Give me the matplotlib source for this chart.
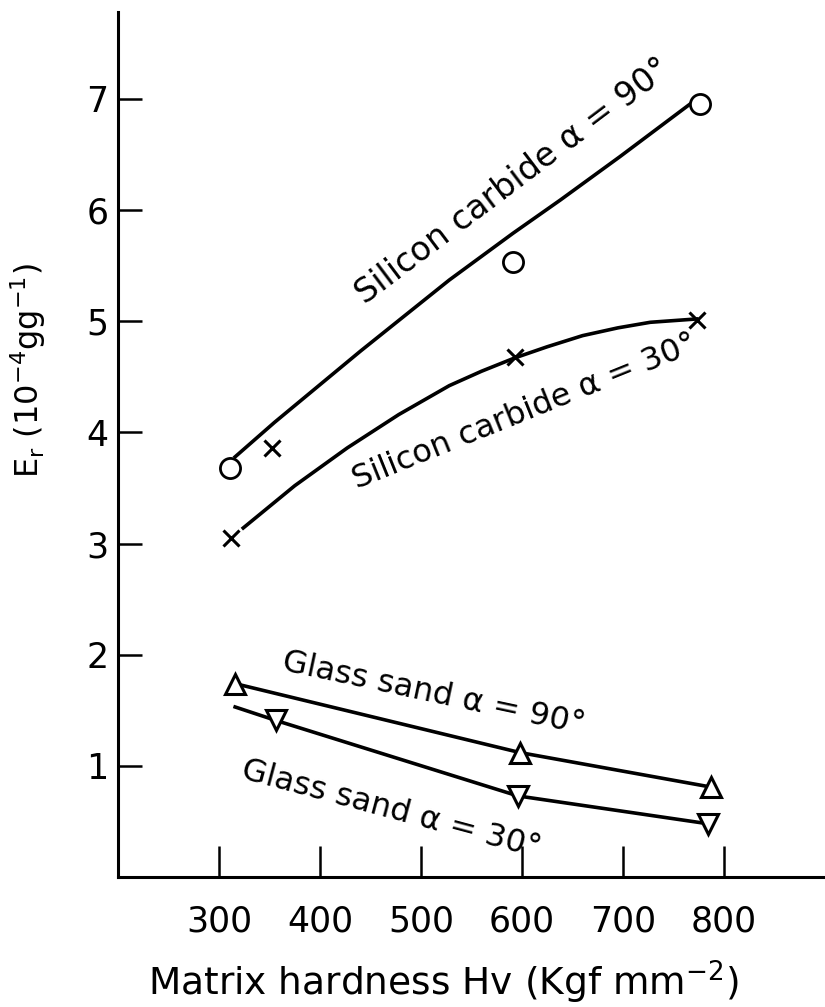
import matplotlib
matplotlib.use("Agg")
import matplotlib.pyplot as plt

# Silicon carbide, alpha = 90 deg: measured points (circles) and the drawn curve
sic90_x = [311, 591, 776]
sic90_y = [3.68, 5.53, 6.95]
sic90_curve_x = [316, 355, 440, 528, 591, 638, 697, 766]
sic90_curve_y = [3.78, 4.09, 4.73, 5.37, 5.79, 6.09, 6.48, 6.95]

# Silicon carbide, alpha = 30 deg: measured points (crosses) and the drawn curve
sic30_x = [312, 352, 593, 773]
sic30_y = [3.05, 3.86, 4.68, 5.01]
sic30_curve_x = [324, 375, 427, 478, 528, 560, 593, 625, 660, 695, 727, 773]
sic30_curve_y = [3.14, 3.52, 3.86, 4.16, 4.42, 4.55, 4.67, 4.77, 4.87, 4.94, 4.99, 5.02]

# Glass sand, alpha = 90 deg (up triangles)
gs90_x = [316, 598, 787]
gs90_y = [1.74, 1.12, 0.81]

# Glass sand, alpha = 30 deg (down triangles) and the drawn line
gs30_x = [356, 596, 784]
gs30_y = [1.41, 0.73, 0.48]
gs30_line_x = [316, 356, 596, 784]
gs30_line_y = [1.53, 1.41, 0.73, 0.48]

x_ticks = [300, 400, 500, 600, 700, 800]
y_ticks = [1, 2, 3, 4, 5, 6, 7]


def main():
    plt.rcParams['font.family'] = ['DejaVu Sans']
    plt.rcParams['mathtext.default'] = 'regular'

    fig = plt.figure(figsize=(8.25, 10.07), dpi=100)
    ax = fig.add_axes([0.143, 0.129, 0.857, 0.859])

    lw = 2.6
    ax.plot(sic90_curve_x, sic90_curve_y, c='k', lw=lw, zorder=1)
    ax.plot(sic30_curve_x, sic30_curve_y, c='k', lw=lw, zorder=1)
    ax.plot(gs90_x, gs90_y, c='k', lw=lw, zorder=1)
    ax.plot(gs30_line_x, gs30_line_y, c='k', lw=lw, zorder=1)

    ax.plot(sic90_x, sic90_y, 'o', ms=14.5, mfc='w', mec='k', mew=2.0, zorder=3)
    ax.plot(sic30_x, sic30_y, 'x', ms=11, mec='k', mew=2.2, zorder=3)
    ax.plot(gs90_x, gs90_y, '^', ms=14, mfc='w', mec='k', mew=2.2, zorder=3)
    ax.plot(gs30_x, gs30_y, 'v', ms=14, mfc='w', mec='k', mew=2.2, zorder=3)

    fs = 23
    ax.text(591, 6.26, 'Silicon carbide α = 90°', rotation=37, fontsize=24,
            ha='center', va='center', rotation_mode='anchor')
    ax.text(603, 4.18, 'Silicon carbide α = 30°', rotation=22, fontsize=fs,
            ha='center', va='center', rotation_mode='anchor')
    ax.text(512, 1.65, 'Glass sand α = 90°', rotation=-12, fontsize=fs,
            ha='center', va='center', rotation_mode='anchor')
    ax.text(470, 0.61, 'Glass sand α = 30°', rotation=-15, fontsize=fs,
            ha='center', va='center', rotation_mode='anchor')

    ax.set_xlim(200, 900)
    ax.set_ylim(0, 7.78)
    ax.set_xticks(x_ticks)
    ax.set_yticks(y_ticks)
    ax.tick_params(direction='in', width=1.8, labelsize=25)
    ax.tick_params(axis='x', length=22, pad=20)
    ax.tick_params(axis='y', length=17, pad=7)
    for s in ['top', 'right']:
        ax.spines[s].set_visible(False)
    ax.spines['left'].set_linewidth(2.2)
    ax.spines['bottom'].set_linewidth(2.2)

    ax.set_xlabel('Matrix hardness Hv (Kgf mm$^{-2}$)', fontsize=27)
    ax.xaxis.set_label_coords(0.46, -0.094)
    ax.set_ylabel('E$_r$ (10$^{-4}$gg$^{-1}$)', fontsize=23)
    ax.yaxis.set_label_coords(-0.099, 0.585)

    fig.savefig('out.png', dpi=100)
    return 0


if __name__ == '__main__':
    main()
